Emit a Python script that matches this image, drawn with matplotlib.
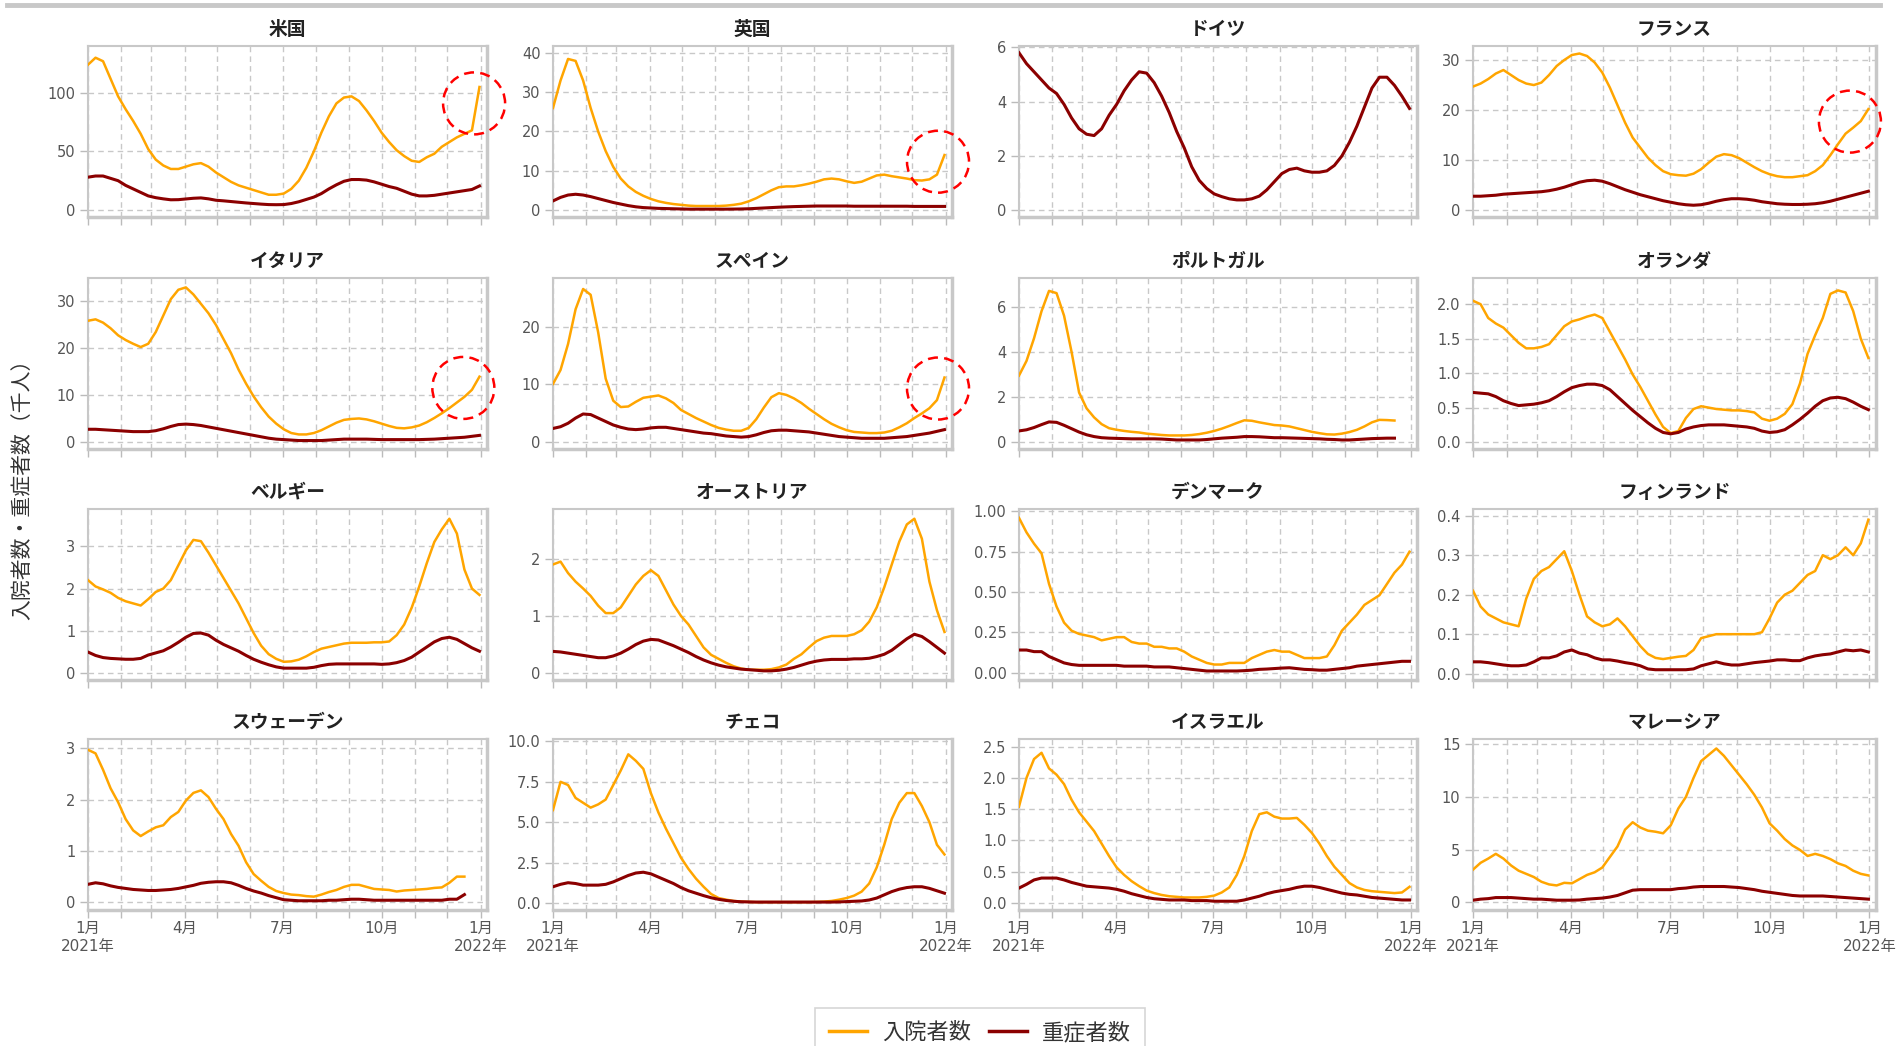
import numpy as np
import pandas as pd
import matplotlib
matplotlib.use('Agg')
import matplotlib.pyplot as plt
import matplotlib.dates as mdates
from matplotlib.patches import Circle
from matplotlib.lines import Line2D
from matplotlib.transforms import IdentityTransform
from matplotlib.ticker import FixedLocator, FuncFormatter

plt.rcParams['font.family'] = ['DejaVu Sans', 'Noto Sans CJK JP']

nan = np.nan
# weekly readings, 2021-01-01 .. 2021-12-31 (thousand people)
dates = pd.date_range('2021-01-01', periods=53, freq='7D')

us_hosp = [124, 130, 127, 112, 97, 86, 76, 65, 52, 43,
           38, 35, 35, 37, 39, 40, 37, 32, 28, 24,
           21, 19, 17, 15, 13, 13, 14, 18, 25, 36,
           50, 66, 80, 91, 96, 97, 93, 85, 76, 66,
           58, 51, 46, 42, 41, 45, 48, 54, 58, 62,
           65, 68, 105]
us_icu = [28, 29, 29, 27, 25, 21, 18, 15, 12, 10.5,
          9.5, 8.7, 8.8, 9.4, 10, 10.3, 9.5, 8.3, 7.8, 7.2,
          6.6, 6.0, 5.5, 5.0, 4.6, 4.5, 4.6, 5.5, 7, 9,
          11, 14, 18, 21.5, 24.5, 26, 26, 25.5, 24, 22,
          20, 18.5, 16, 13.5, 12, 12, 12.5, 13.5, 14.5, 15.5,
          16.5, 17.5, 20.5]

uk_hosp = [26, 33, 38.5, 38, 33, 26, 20, 15, 11, 8,
           6, 4.6, 3.6, 2.8, 2.2, 1.8, 1.5, 1.3, 1.1, 1.0,
           1.0, 1.0, 1.0, 1.1, 1.3, 1.6, 2.2, 3.0, 4.0, 5.0,
           5.8, 6.0, 6.0, 6.3, 6.7, 7.2, 7.8, 8.0, 7.8, 7.3,
           6.9, 7.2, 8.0, 8.8, 9.0, 8.6, 8.3, 8.0, 7.6, 7.5,
           7.8, 9.0, 14.0]
uk_icu = [2.3, 3.2, 3.8, 4.0, 3.8, 3.4, 2.9, 2.4, 1.9, 1.5,
          1.1, 0.8, 0.6, 0.5, 0.4, 0.35, 0.3, 0.25, 0.2, 0.2,
          0.2, 0.2, 0.2, 0.2, 0.22, 0.25, 0.3, 0.4, 0.5, 0.6,
          0.7, 0.78, 0.85, 0.9, 0.95, 1.0, 1.0, 1.0, 1.0, 1.0,
          0.95, 0.95, 0.95, 0.95, 0.95, 0.95, 0.95, 0.95, 0.9, 0.9,
          0.9, 0.9, 0.9]

de_hosp = [nan] * 53
de_icu = [5.8, 5.4, 5.1, 4.8, 4.5, 4.3, 3.9, 3.4, 3.0, 2.8,
          2.75, 3.0, 3.5, 3.9, 4.4, 4.8, 5.1, 5.05, 4.7, 4.2,
          3.6, 2.9, 2.3, 1.6, 1.1, 0.8, 0.6, 0.5, 0.42, 0.38,
          0.38, 0.42, 0.52, 0.75, 1.05, 1.35, 1.5, 1.55, 1.45, 1.4,
          1.4, 1.45, 1.65, 2.0, 2.5, 3.1, 3.8, 4.5, 4.9, 4.9,
          4.6, 4.2, 3.75]

fr_hosp = [24.7, 25.3, 26.2, 27.3, 28.0, 27.0, 26.0, 25.3, 25.0, 25.5,
           27.0, 28.8, 30.0, 31.0, 31.3, 30.8, 29.5, 27.5, 24.5, 21.0,
           17.5, 14.5, 12.5, 10.5, 9.0, 7.8, 7.2, 7.0, 6.9, 7.3,
           8.2, 9.5, 10.7, 11.2, 11.0, 10.4, 9.5, 8.6, 7.8, 7.2,
           6.8, 6.6, 6.6, 6.8, 7.0, 7.8, 9.0, 11.0, 13.2, 15.3,
           16.5, 17.8, 20.2]
fr_icu = [2.8, 2.8, 2.9, 3.0, 3.2, 3.3, 3.4, 3.5, 3.6, 3.7,
          3.9, 4.2, 4.6, 5.1, 5.6, 5.9, 6.0, 5.8, 5.3, 4.7,
          4.1, 3.6, 3.1, 2.7, 2.3, 1.9, 1.6, 1.3, 1.1, 1.0,
          1.1, 1.4, 1.8, 2.1, 2.3, 2.3, 2.2, 2.0, 1.7, 1.5,
          1.3, 1.2, 1.15, 1.15, 1.2, 1.3, 1.5, 1.8, 2.2, 2.6,
          3.0, 3.4, 3.8]

it_hosp = [25.9, 26.2, 25.5, 24.3, 22.8, 21.8, 21.0, 20.3, 21.0, 23.5,
           27.0, 30.5, 32.5, 33.0, 31.5, 29.5, 27.5, 25.0, 22.0, 19.0,
           15.5, 12.5, 9.8, 7.5, 5.5, 4.0, 2.8, 2.0, 1.7, 1.7,
           2.0, 2.6, 3.4, 4.2, 4.8, 5.0, 5.1, 4.9, 4.5, 4.0,
           3.5, 3.1, 3.0, 3.2, 3.6, 4.3, 5.2, 6.2, 7.3, 8.5,
           9.7, 11.2, 14.0]
it_icu = [2.8, 2.8, 2.7, 2.6, 2.5, 2.4, 2.3, 2.3, 2.3, 2.5,
          2.9, 3.4, 3.8, 3.9, 3.8, 3.6, 3.3, 3.0, 2.7, 2.4,
          2.1, 1.8, 1.5, 1.2, 0.9, 0.7, 0.6, 0.5, 0.4, 0.4,
          0.4, 0.4, 0.5, 0.6, 0.7, 0.7, 0.7, 0.7, 0.65, 0.6,
          0.6, 0.6, 0.6, 0.6, 0.6, 0.65, 0.7, 0.8, 0.9, 1.0,
          1.1, 1.3, 1.5]

es_hosp = [10.1, 12.5, 17.0, 23.0, 26.5, 25.5, 19.0, 11.0, 7.2, 6.1,
           6.2, 7.0, 7.7, 7.9, 8.1, 7.6, 6.8, 5.6, 4.9, 4.2,
           3.6, 3.0, 2.5, 2.2, 2.0, 2.0, 2.5, 4.0, 6.0, 7.8,
           8.5, 8.2, 7.6, 6.8, 5.8, 4.9, 4.0, 3.2, 2.6, 2.1,
           1.8, 1.7, 1.6, 1.6, 1.7, 2.0, 2.6, 3.3, 4.2, 5.0,
           5.9, 7.3, 11.2]
es_icu = [2.4, 2.7, 3.3, 4.2, 4.9, 4.8, 4.2, 3.6, 3.0, 2.6,
          2.3, 2.2, 2.3, 2.5, 2.6, 2.6, 2.4, 2.2, 2.0, 1.8,
          1.6, 1.5, 1.3, 1.1, 1.0, 0.9, 1.0, 1.3, 1.7, 2.0,
          2.1, 2.1, 2.0, 1.9, 1.8, 1.6, 1.4, 1.2, 1.0, 0.9,
          0.8, 0.7, 0.7, 0.7, 0.7, 0.8, 0.9, 1.0, 1.2, 1.4,
          1.6, 1.9, 2.2]

pt_hosp = [2.95, 3.6, 4.6, 5.8, 6.7, 6.6, 5.6, 4.0, 2.2, 1.5,
           1.1, 0.8, 0.62, 0.55, 0.5, 0.46, 0.43, 0.38, 0.35, 0.32,
           0.3, 0.3, 0.3, 0.32, 0.36, 0.42, 0.5, 0.6, 0.72, 0.85,
           0.97, 0.95, 0.88, 0.82, 0.76, 0.74, 0.7, 0.62, 0.54, 0.46,
           0.4, 0.35, 0.34, 0.38, 0.45, 0.55, 0.7, 0.88, 0.99, 0.98,
           0.96, nan, nan]
pt_icu = [0.5, 0.55, 0.65, 0.78, 0.9, 0.88, 0.75, 0.6, 0.45, 0.33,
          0.25, 0.2, 0.18, 0.17, 0.16, 0.15, 0.15, 0.15, 0.15, 0.14,
          0.12, 0.1, 0.1, 0.1, 0.1, 0.12, 0.15, 0.18, 0.2, 0.22,
          0.25, 0.25, 0.24, 0.22, 0.2, 0.2, 0.19, 0.18, 0.17, 0.16,
          0.15, 0.13, 0.12, 0.1, 0.1, 0.12, 0.14, 0.16, 0.17, 0.18,
          0.18, nan, nan]

nl_hosp = [2.05, 2.0, 1.8, 1.72, 1.66, 1.55, 1.44, 1.36, 1.36, 1.38,
           1.42, 1.55, 1.68, 1.75, 1.78, 1.82, 1.85, 1.8, 1.6, 1.4,
           1.2, 0.98, 0.8, 0.6, 0.4, 0.22, 0.13, 0.16, 0.35, 0.48,
           0.52, 0.5, 0.48, 0.47, 0.46, 0.46, 0.45, 0.43, 0.34, 0.31,
           0.34, 0.41, 0.55, 0.85, 1.28, 1.55, 1.8, 2.15, 2.2, 2.17,
           1.9, 1.5, 1.22]
nl_icu = [0.72, 0.71, 0.7, 0.66, 0.6, 0.56, 0.53, 0.54, 0.55, 0.57,
          0.6, 0.66, 0.73, 0.79, 0.82, 0.84, 0.84, 0.82, 0.76, 0.66,
          0.56, 0.46, 0.37, 0.28, 0.2, 0.14, 0.12, 0.14, 0.19, 0.22,
          0.24, 0.25, 0.25, 0.25, 0.24, 0.23, 0.22, 0.2, 0.16, 0.14,
          0.15, 0.18, 0.25, 0.33, 0.42, 0.52, 0.6, 0.64, 0.65, 0.63,
          0.58, 0.52, 0.47]

be_hosp = [2.2, 2.05, 1.98, 1.9, 1.78, 1.7, 1.65, 1.6, 1.75, 1.92,
           2.0, 2.2, 2.55, 2.9, 3.15, 3.12, 2.85, 2.55, 2.25, 1.95,
           1.65, 1.3, 0.95, 0.65, 0.45, 0.34, 0.27, 0.28, 0.32, 0.4,
           0.5, 0.58, 0.62, 0.66, 0.7, 0.72, 0.72, 0.72, 0.73, 0.73,
           0.75, 0.9, 1.15, 1.55, 2.05, 2.6, 3.1, 3.4, 3.65, 3.3,
           2.45, 2.0, 1.85]
be_icu = [0.5, 0.42, 0.37, 0.35, 0.34, 0.33, 0.33, 0.35, 0.43, 0.48,
          0.53, 0.62, 0.73, 0.85, 0.94, 0.95, 0.9, 0.78, 0.68, 0.6,
          0.52, 0.42, 0.33, 0.26, 0.2, 0.15, 0.12, 0.12, 0.12, 0.12,
          0.14, 0.18, 0.21, 0.22, 0.22, 0.22, 0.22, 0.22, 0.22, 0.21,
          0.22, 0.25, 0.3, 0.38, 0.5, 0.62, 0.74, 0.82, 0.85, 0.8,
          0.7, 0.6, 0.52]

at_hosp = [1.9, 1.95, 1.75, 1.6, 1.48, 1.35, 1.18, 1.05, 1.05, 1.15,
           1.35, 1.55, 1.7, 1.8, 1.7, 1.45, 1.2, 1.0, 0.85, 0.65,
           0.45, 0.32, 0.25, 0.18, 0.12, 0.08, 0.06, 0.06, 0.06, 0.07,
           0.1, 0.15, 0.25, 0.33, 0.45, 0.56, 0.62, 0.65, 0.65, 0.65,
           0.68, 0.75, 0.9, 1.15, 1.5, 1.9, 2.3, 2.6, 2.7, 2.35,
           1.6, 1.1, 0.72]
at_icu = [0.38, 0.37, 0.35, 0.33, 0.31, 0.29, 0.27, 0.27, 0.3, 0.35,
          0.42, 0.5, 0.56, 0.59, 0.58, 0.53, 0.48, 0.42, 0.36, 0.29,
          0.23, 0.18, 0.14, 0.11, 0.09, 0.07, 0.06, 0.05, 0.04, 0.04,
          0.05, 0.07, 0.1, 0.14, 0.18, 0.21, 0.23, 0.24, 0.24, 0.24,
          0.25, 0.25, 0.26, 0.29, 0.33, 0.4, 0.5, 0.6, 0.68, 0.64,
          0.55, 0.45, 0.35]

dk_hosp = [0.96, 0.87, 0.8, 0.74, 0.55, 0.41, 0.31, 0.26, 0.24, 0.23,
           0.22, 0.2, 0.21, 0.22, 0.22, 0.19, 0.18, 0.18, 0.16, 0.16,
           0.15, 0.15, 0.13, 0.1, 0.08, 0.06, 0.05, 0.05, 0.06, 0.06,
           0.06, 0.09, 0.11, 0.13, 0.14, 0.13, 0.13, 0.11, 0.09, 0.09,
           0.09, 0.1, 0.17, 0.26, 0.31, 0.36, 0.42, 0.45, 0.48, 0.55,
           0.62, 0.67, 0.75]
dk_icu = [0.14, 0.14, 0.13, 0.13, 0.1, 0.08, 0.06, 0.05, 0.045, 0.045,
          0.045, 0.045, 0.045, 0.045, 0.04, 0.04, 0.04, 0.04, 0.035, 0.035,
          0.035, 0.03, 0.025, 0.02, 0.015, 0.01, 0.01, 0.01, 0.01, 0.01,
          0.012, 0.015, 0.02, 0.022, 0.025, 0.028, 0.03, 0.025, 0.02, 0.018,
          0.015, 0.015, 0.02, 0.025, 0.03, 0.04, 0.045, 0.05, 0.055, 0.06,
          0.065, 0.07, 0.07]

fi_hosp = [0.21, 0.17, 0.15, 0.14, 0.13, 0.125, 0.12, 0.19, 0.24, 0.26,
           0.27, 0.29, 0.31, 0.26, 0.2, 0.145, 0.13, 0.12, 0.125, 0.14,
           0.12, 0.095, 0.07, 0.05, 0.04, 0.037, 0.04, 0.043, 0.045, 0.06,
           0.09, 0.095, 0.1, 0.1, 0.1, 0.1, 0.1, 0.1, 0.105, 0.14,
           0.18, 0.2, 0.21, 0.23, 0.25, 0.26, 0.3, 0.29, 0.3, 0.32,
           0.3, 0.33, 0.39]
fi_icu = [0.03, 0.03, 0.028, 0.025, 0.022, 0.02, 0.02, 0.022, 0.03, 0.04,
          0.04, 0.045, 0.055, 0.06, 0.052, 0.048, 0.04, 0.035, 0.035, 0.032,
          0.028, 0.025, 0.02, 0.012, 0.01, 0.01, 0.01, 0.01, 0.01, 0.012,
          0.02, 0.025, 0.03, 0.025, 0.022, 0.022, 0.025, 0.028, 0.03, 0.032,
          0.035, 0.035, 0.033, 0.033, 0.04, 0.045, 0.048, 0.05, 0.055, 0.06,
          0.058, 0.06, 0.055]

se_hosp = [2.97, 2.9, 2.58, 2.22, 1.95, 1.62, 1.4, 1.29, 1.38, 1.46,
           1.5, 1.66, 1.76, 1.98, 2.13, 2.18, 2.05, 1.82, 1.62, 1.33,
           1.1, 0.78, 0.55, 0.42, 0.3, 0.22, 0.18, 0.15, 0.14, 0.12,
           0.11, 0.15, 0.2, 0.24, 0.3, 0.34, 0.34, 0.3, 0.26, 0.25,
           0.24, 0.21, 0.23, 0.24, 0.25, 0.26, 0.28, 0.29, 0.38, 0.5,
           0.5, nan, nan]
se_icu = [0.35, 0.38, 0.36, 0.32, 0.29, 0.27, 0.25, 0.24, 0.23, 0.23,
          0.24, 0.25, 0.27, 0.3, 0.33, 0.37, 0.39, 0.4, 0.4, 0.38,
          0.33, 0.27, 0.22, 0.18, 0.13, 0.09, 0.05, 0.04, 0.03, 0.03,
          0.03, 0.03, 0.04, 0.04, 0.05, 0.06, 0.06, 0.05, 0.04, 0.04,
          0.04, 0.04, 0.04, 0.04, 0.04, 0.04, 0.04, 0.04, 0.06, 0.06,
          0.15, nan, nan]

cz_hosp = [5.75, 7.5, 7.3, 6.5, 6.2, 5.9, 6.1, 6.4, 7.3, 8.2,
           9.2, 8.8, 8.3, 6.8, 5.6, 4.6, 3.7, 2.8, 2.1, 1.5,
           1.0, 0.55, 0.3, 0.2, 0.12, 0.08, 0.06, 0.05, 0.05, 0.05,
           0.05, 0.05, 0.05, 0.05, 0.05, 0.06, 0.08, 0.12, 0.2, 0.3,
           0.45, 0.7, 1.2, 2.2, 3.6, 5.2, 6.2, 6.8, 6.8, 6.0,
           5.0, 3.6, 3.0]
cz_icu = [1.0, 1.15, 1.25, 1.2, 1.1, 1.1, 1.1, 1.15, 1.3, 1.5,
          1.7, 1.85, 1.9, 1.8, 1.6, 1.4, 1.2, 0.95, 0.75, 0.6,
          0.45, 0.32, 0.22, 0.15, 0.1, 0.07, 0.06, 0.05, 0.05, 0.05,
          0.05, 0.05, 0.05, 0.05, 0.05, 0.05, 0.05, 0.05, 0.06, 0.08,
          0.1, 0.12, 0.18, 0.3, 0.5, 0.7, 0.85, 0.95, 1.0, 1.0,
          0.9, 0.75, 0.6]

il_hosp = [1.54, 2.0, 2.3, 2.4, 2.15, 2.05, 1.9, 1.65, 1.45, 1.3,
           1.15, 0.95, 0.75, 0.57, 0.45, 0.35, 0.27, 0.2, 0.16, 0.13,
           0.11, 0.1, 0.09, 0.09, 0.09, 0.1, 0.12, 0.17, 0.25, 0.45,
           0.75, 1.15, 1.42, 1.45, 1.38, 1.35, 1.35, 1.36, 1.25, 1.12,
           0.95, 0.75, 0.58, 0.45, 0.32, 0.25, 0.21, 0.19, 0.18, 0.17,
           0.16, 0.17, 0.26]
il_icu = [0.24, 0.3, 0.37, 0.4, 0.4, 0.4, 0.37, 0.33, 0.3, 0.27,
          0.26, 0.25, 0.24, 0.22, 0.19, 0.15, 0.12, 0.09, 0.07, 0.06,
          0.05, 0.05, 0.05, 0.04, 0.04, 0.04, 0.03, 0.03, 0.03, 0.03,
          0.05, 0.08, 0.11, 0.15, 0.18, 0.2, 0.22, 0.25, 0.27, 0.27,
          0.25, 0.22, 0.19, 0.16, 0.14, 0.13, 0.11, 0.09, 0.08, 0.07,
          0.06, 0.05, 0.05]

my_hosp = [3.1, 3.75, 4.15, 4.6, 4.15, 3.5, 3.0, 2.7, 2.4, 1.95,
           1.7, 1.6, 1.85, 1.8, 2.2, 2.6, 2.85, 3.3, 4.3, 5.3,
           6.9, 7.6, 7.1, 6.8, 6.7, 6.55, 7.3, 8.9, 10.0, 11.8,
           13.4, 14.0, 14.6, 13.9, 13.0, 12.1, 11.2, 10.2, 9.0, 7.5,
           6.8, 6.0, 5.4, 4.97, 4.4, 4.6, 4.4, 4.1, 3.7, 3.45,
           3.0, 2.7, 2.55]
my_icu = [0.2, 0.3, 0.35, 0.45, 0.45, 0.45, 0.4, 0.35, 0.3, 0.3,
          0.25, 0.2, 0.2, 0.2, 0.22, 0.3, 0.35, 0.4, 0.5, 0.65,
          0.9, 1.15, 1.2, 1.2, 1.2, 1.2, 1.2, 1.3, 1.35, 1.45,
          1.5, 1.5, 1.5, 1.5, 1.45, 1.4, 1.3, 1.2, 1.05, 0.95,
          0.85, 0.75, 0.65, 0.6, 0.6, 0.6, 0.6, 0.55, 0.5, 0.45,
          0.4, 0.35, 0.3]

names = ['米国', '英国', 'ドイツ', 'フランス',
         'イタリア', 'スペイン', 'ポルトガル', 'オランダ',
         'ベルギー', 'オーストリア', 'デンマーク', 'フィンランド',
         'スウェーデン', 'チェコ', 'イスラエル', 'マレーシア']
hosp = [us_hosp, uk_hosp, de_hosp, fr_hosp, it_hosp, es_hosp, pt_hosp, nl_hosp,
        be_hosp, at_hosp, dk_hosp, fi_hosp, se_hosp, cz_hosp, il_hosp, my_hosp]
icu = [us_icu, uk_icu, de_icu, fr_icu, it_icu, es_icu, pt_icu, nl_icu,
       be_icu, at_icu, dk_icu, fi_icu, se_icu, cz_icu, il_icu, my_icu]
yticks = [[0, 50, 100], [0, 10, 20, 30, 40], [0, 2, 4, 6], [0, 10, 20, 30],
          [0, 10, 20, 30], [0, 10, 20], [0, 2, 4, 6], [0, 0.5, 1.0, 1.5, 2.0],
          [0, 1, 2, 3], [0, 1, 2], [0, 0.25, 0.5, 0.75, 1.0], [0, 0.1, 0.2, 0.3, 0.4],
          [0, 1, 2, 3], [0, 2.5, 5, 7.5, 10], [0, 0.5, 1, 1.5, 2, 2.5], [0, 5, 10, 15]]
ylims = [(-6, 140), (-1.8, 41.8), (-0.25, 6.05), (-1.35, 32.8),
         (-1.4, 35), (-1.15, 28.4), (-0.3, 7.27), (-0.1, 2.38),
         (-0.16, 3.88), (-0.12, 2.87), (-0.046, 1.015), (-0.016, 0.417),
         (-0.15, 3.18), (-0.44, 10.15), (-0.11, 2.62), (-0.73, 15.5)]
ydigits = [0, 0, 0, 0, 0, 0, 0, 1, 0, 0, 2, 1, 0, 1, 1, 0]

# red dashed circles: (panel, date, value)
highlights = [(0, '2021-12-26', 91), (1, '2021-12-25', 12.3), (3, '2021-12-14', 17.7),
              (4, '2021-12-16', 11.6), (5, '2021-12-25', 9.3)]

ORANGE = '#FFA500'
DARKRED = '#8B0000'
GRID = '#c8c8c8'

W, H = 1896, 1046
fig = plt.figure(figsize=(W / 100, H / 100), dpi=100)
col_left = [88, 553, 1019, 1473]
col_w = [399, 399, 398, 403]
row_top = [46, 278, 509, 739]
row_h = 171

xmin, xmax = pd.Timestamp('2021-01-01'), pd.Timestamp('2022-01-07')
month_ticks = pd.date_range('2021-01-01', '2022-01-01', freq='MS')


def xlabel(x, pos):
    d = mdates.num2date(x)
    if d.month == 1:
        return f'1月\n{d.year}年'
    if d.month in (4, 7, 10):
        return f'{d.month}月'
    return ''


axes = []
for i, name in enumerate(names):
    r, c = divmod(i, 4)
    l, t = col_left[c], row_top[r]
    ax = fig.add_axes([l / W, 1 - (t + row_h) / H, col_w[c] / W, row_h / H])
    axes.append(ax)
    ax.plot(dates, hosp[i], color=ORANGE, lw=1.8, zorder=3)
    ax.plot(dates, icu[i], color=DARKRED, lw=2.2, zorder=3)
    ax.set_xlim(xmin, xmax)
    ax.set_ylim(*ylims[i])
    ax.xaxis.set_major_locator(FixedLocator(mdates.date2num(month_ticks)))
    if r == 3:
        ax.xaxis.set_major_formatter(FuncFormatter(xlabel))
    else:
        ax.xaxis.set_major_formatter(FuncFormatter(lambda x, p: ''))
    ax.set_yticks(yticks[i])
    nd = ydigits[i]
    ax.yaxis.set_major_formatter(FuncFormatter(lambda v, p, nd=nd: f'{v:.{nd}f}'))
    ax.grid(True, color=GRID, linestyle=(0, (4, 3)), linewidth=1)
    ax.set_axisbelow(True)
    ax.tick_params(direction='out', length=6, width=1, color='#bbbbbb',
                   labelcolor='#555555', labelsize=10.5, pad=3)
    ax.tick_params(axis='x', labelsize=11, pad=2)
    for side, sp in ax.spines.items():
        sp.set_color('#c8c8c8')
        sp.set_linewidth(2.5 if side in ('right', 'bottom') else 1.5)
    ax.set_title(name, fontsize=13.5, fontweight='bold', color='#222222', pad=8)

# highlight circles, fixed pixel radius around a data point
for i, d, v in highlights:
    ax = axes[i]
    px, py = ax.transData.transform((mdates.date2num(pd.Timestamp(d)), v))
    fig.add_artist(Circle((px, py), 31, transform=IdentityTransform(), fill=False,
                          ec='#ff0000', ls=(0, (4, 2.5)), lw=1.8, zorder=10))

fig.add_artist(Line2D([7 / W, 1880 / W], [1 - 5 / H, 1 - 5 / H], color='#c8c8c8', lw=3.5))

fig.text(22 / W, 1 - 484 / H, '入院者数・重症者数（千人）', rotation=90,
         ha='center', va='center', fontsize=15, color='#333333')

handles = [Line2D([], [], color=ORANGE, lw=2.5), Line2D([], [], color=DARKRED, lw=2.5)]
leg = fig.legend(handles, ['入院者数', '重症者数'], loc='upper center',
                 bbox_to_anchor=(980 / W, 1 - 997 / H), ncol=2, fontsize=16,
                 frameon=True, fancybox=False, edgecolor='#cccccc',
                 handlelength=1.7, columnspacing=0.8, borderpad=0.6, handletextpad=0.7)
leg.get_frame().set_linewidth(1.2)
for t in leg.get_texts():
    t.set_color('#333333')

fig.savefig('out.png', dpi=100)
